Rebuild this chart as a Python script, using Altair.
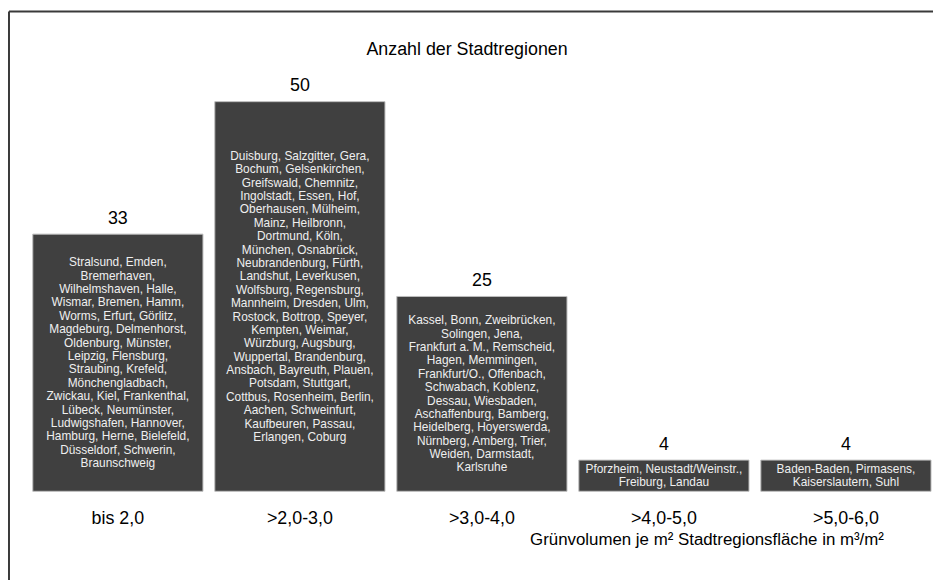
import altair as alt
import pandas as pd

klassen = ["bis 2,0", ">2,0-3,0", ">3,0-4,0", ">4,0-5,0", ">5,0-6,0"]
anzahl = [33, 50, 25, 4, 4]

staedte_1 = [
    "Stralsund, Emden,", "Bremerhaven,", "Wilhelmshaven, Halle,",
    "Wismar, Bremen, Hamm,", "Worms, Erfurt, Görlitz,",
    "Magdeburg, Delmenhorst,", "Oldenburg, Münster,", "Leipzig, Flensburg,",
    "Straubing, Krefeld,", "Mönchengladbach,", "Zwickau, Kiel, Frankenthal,",
    "Lübeck, Neumünster,", "Ludwigshafen, Hannover,",
    "Hamburg, Herne, Bielefeld,", "Düsseldorf, Schwerin,", "Braunschweig",
]
staedte_2 = [
    "Duisburg, Salzgitter, Gera,", "Bochum, Gelsenkirchen,",
    "Greifswald, Chemnitz,", "Ingolstadt, Essen, Hof,", "Oberhausen, Mülheim,",
    "Mainz, Heilbronn,", "Dortmund, Köln,", "München, Osnabrück,",
    "Neubrandenburg, Fürth,", "Landshut, Leverkusen,", "Wolfsburg, Regensburg,",
    "Mannheim, Dresden, Ulm,", "Rostock, Bottrop, Speyer,", "Kempten, Weimar,",
    "Würzburg, Augsburg,", "Wuppertal, Brandenburg,",
    "Ansbach, Bayreuth, Plauen,", "Potsdam, Stuttgart,",
    "Cottbus, Rosenheim, Berlin,", "Aachen, Schweinfurt,",
    "Kaufbeuren, Passau,", "Erlangen, Coburg",
]
staedte_3 = [
    "Kassel, Bonn, Zweibrücken,", "Solingen, Jena,",
    "Frankfurt a. M., Remscheid,", "Hagen, Memmingen,",
    "Frankfurt/O., Offenbach,", "Schwabach, Koblenz,", "Dessau, Wiesbaden,",
    "Aschaffenburg, Bamberg,", "Heidelberg, Hoyerswerda,",
    "Nürnberg, Amberg, Trier,", "Weiden, Darmstadt,", "Karlsruhe",
]
staedte_4 = ["Pforzheim, Neustadt/Weinstr.,", "Freiburg, Landau"]
staedte_5 = ["Baden-Baden, Pirmasens,", "Kaiserslautern, Suhl"]

staedte = [staedte_1, staedte_2, staedte_3, staedte_4, staedte_5]

LH = 13.5

df = pd.DataFrame({
    "klasse": klassen,
    "anzahl": anzahl,
    "staedte": ["\n".join(s) for s in staedte],
    "zeilen": [len(s) for s in staedte],
})

FONT = "Liberation Sans"

x_enc = alt.X(
    "klasse:N", sort=klassen,
    scale=alt.Scale(paddingInner=0.065, paddingOuter=0),
    axis=alt.Axis(
        title="Grünvolumen je m² Stadtregionsfläche in m³/m²",
        labelAngle=0, domain=False, ticks=False, tickSize=0, grid=False,
        labelFont=FONT, labelFontSize=18, labelColor="#000000",
        labelBaseline="middle", labelPadding=27,
        titleFont=FONT, titleFontSize=17, titleFontWeight="normal",
        titleColor="#000000", titleX=858, titleY=49,
        titleAlign="right", titleBaseline="middle",
    ),
)
y_enc = alt.Y("anzahl:Q", scale=alt.Scale(domain=[0, 50]), axis=None)

base = alt.Chart(df).encode(x=x_enc)

bars = base.mark_bar(color="#404040", stroke="#bdbdbd", strokeWidth=1).encode(y=y_enc)

labels = base.mark_text(
    font=FONT, fontSize=18, color="#000000", baseline="alphabetic", dy=-10.5
).encode(y=y_enc, text="anzahl:Q")

inner = base.transform_calculate(mitte="datum.anzahl / 2").mark_text(
    font=FONT, fontSize=12, color="#efefef", baseline="middle",
    lineBreak="\n", lineHeight=LH,
    dy=alt.ExprRef(f"-(datum.zeilen - 1) * {LH} / 2"),
).encode(
    y=alt.Y("mitte:Q", scale=alt.Scale(domain=[0, 50]), axis=None),
    text="staedte:N",
)

frame_data = alt.Data(values=[{"k": 1}])
frame_top = alt.Chart(frame_data).mark_rule(color="#3a3a3a", strokeWidth=2).encode(
    x=alt.value(-24), x2=alt.value(920), y=alt.value(-91)
)
frame_left = alt.Chart(frame_data).mark_rule(color="#3a3a3a", strokeWidth=2).encode(
    x=alt.value(-24), y=alt.value(-91), y2=alt.value(500)
)

chart = alt.layer(bars, inner, labels, frame_top, frame_left).properties(
    width=906, height=393,
    background="#ffffff",
    autosize=alt.AutoSizeParams(type="none"),
    padding={"left": 25, "top": 92, "right": 2, "bottom": 87},
    title=alt.TitleParams(
        "Anzahl der Stadtregionen", font=FONT, fontSize=18,
        fontWeight="normal", color="#000000", anchor="middle",
        baseline="bottom", dx=-15, offset=-67,
    ),
).configure_view(stroke="transparent", strokeWidth=0)

chart.save("out.html", embed_options={"renderer": "svg", "actions": False})
